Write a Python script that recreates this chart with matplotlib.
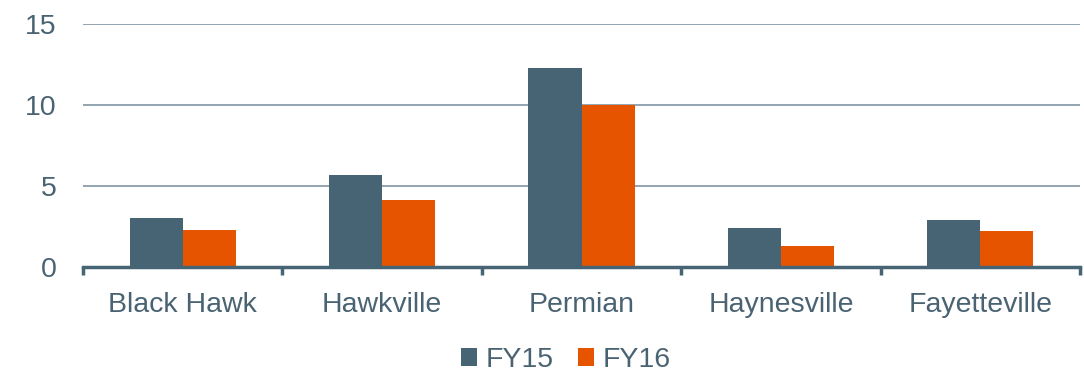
import numpy as np
import matplotlib
matplotlib.use("Agg")
import matplotlib.pyplot as plt

# Valores por cuenca y año fiscal
cuencas = ["Black Hawk", "Hawkville", "Permian", "Haynesville", "Fayetteville"]
fy15 = [3.0, 5.7, 12.3, 2.4, 2.9]
fy16 = [2.25, 4.1, 10.0, 1.3, 2.2]
series = ["FY15", "FY16"]
ticks_y = [0, 5, 10, 15]

color_fy15 = "#476475"
color_fy16 = "#E65400"
color_texto = "#4A6372"
color_grid = "#7F95A3"

plt.rcParams["font.family"] = ["Liberation Sans", "DejaVu Sans"]
tam = 20.5

fig = plt.figure(figsize=(10.84, 3.73), dpi=100)
ax = fig.add_axes([0.0766, 0.285, 0.9197, 0.65])

x = np.arange(len(cuencas))
ancho = 0.266
ax.bar(x - ancho / 2, fy15, ancho, color=color_fy15, label=series[0], zorder=3)
ax.bar(x + ancho / 2, fy16, ancho, color=color_fy16, label=series[1], zorder=3)

ax.set_xlim(-0.5, len(cuencas) - 0.5)
ax.set_ylim(0, 15)
ax.set_yticks(ticks_y)
ax.set_yticklabels([str(t) for t in ticks_y], fontsize=tam, color=color_texto)
ax.tick_params(axis="y", length=0, pad=19)

# Etiquetas de categoría centradas, marcas en los límites de cada grupo
ax.set_xticks(x)
ax.set_xticklabels(cuencas, fontsize=tam, color=color_texto)
ax.tick_params(axis="x", which="major", length=0, pad=18)
ax.set_xticks(np.arange(len(cuencas) + 1) - 0.5, minor=True)
ax.tick_params(axis="x", which="minor", length=6, width=2.5, color=color_fy15, direction="out")

for y in ticks_y[1:]:
    ax.axhline(y, color=color_grid, linewidth=1.2, zorder=1)

for lado in ["left", "right", "top"]:
    ax.spines[lado].set_visible(False)
ax.spines["bottom"].set_color(color_fy15)
ax.spines["bottom"].set_linewidth(2.5)
ax.spines["bottom"].set_zorder(4)

leyenda = fig.legend(loc="lower center", bbox_to_anchor=(0.522, -0.068), ncol=2, frameon=False,
                     fontsize=tam, handlelength=0.58, handleheight=0.58, handletextpad=0.3,
                     columnspacing=0.85)
for texto in leyenda.get_texts():
    texto.set_color(color_texto)

fig.savefig("out.png", dpi=100)
